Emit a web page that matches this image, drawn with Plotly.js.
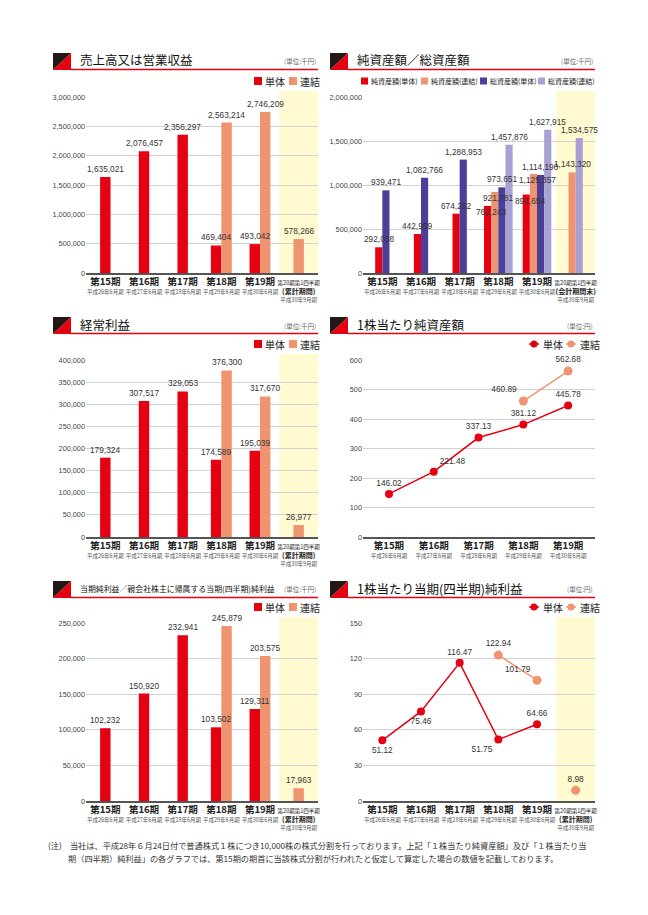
<!DOCTYPE html>
<html><head><meta charset="utf-8">
<script src="https://cdn.plot.ly/plotly-3.0.1.min.js"></script>
<style>html,body{margin:0;padding:0;background:#fff}#chart{width:648px;height:915px}</style>
</head><body><div id="chart"></div>
<script>
// ---------------- data ----------------
const periods = ['第15期','第16期','第17期','第18期','第19期','第20期第1四半期'];
const periodSub = ['平成26年6月期','平成27年6月期','平成28年6月期','平成29年6月期','平成30年6月期','平成30年9月期'];
const noteCum = '(累計期間)';
const noteEnd = '(会計期間末)';

const salesSingle = [1635021, 2076457, 2356297, 469404, 493042, null];
const salesConsol = [null, null, null, 2563214, 2746209, 578266];

const netAssetsSingle = [292038, 442959, 674262, 762243, 891654, null];
const netAssetsConsol = [null, null, null, 921781, 1125357, 1143320];
const totalAssetsSingle = [939471, 1082766, 1288953, 973651, 1114190, null];
const totalAssetsConsol = [null, null, null, 1457876, 1627915, 1534575];

const ordinarySingle = [179324, 307517, 329053, 174589, 195039, null];
const ordinaryConsol = [null, null, null, 376300, 317670, 26977];

const bpsSingle = [146.02, 221.48, 337.13, 381.12, 445.78];
const bpsConsol = [null, null, null, 460.89, 562.68];

const netIncomeSingle = [102232, 150920, 232941, 103502, 129311, null];
const netIncomeConsol = [null, null, null, 245879, 203575, 17963];

const epsSingle = [51.12, 75.46, 116.47, 51.75, 64.66, null];
const epsConsol = [null, null, null, 122.94, 101.79, 8.98];

const nameSingle = '単体', nameConsol = '連結';
const naNames = ['純資産額(単体)','純資産額(連結)','総資産額(単体)','総資産額(連結)'];

// ---------------- style ----------------
const W = 648, H = 915;
const fx = p => p / W, fy = p => 1 - p / H;
const JP = "'Noto Sans CJK JP', sans-serif";
const NUM = "'Liberation Sans Narrow', 'Liberation Sans', Arial, sans-serif";
const RED = '#e50012', SALMON = '#ef9470', NAVY = '#4b3f97', LAV = '#a9a1d3', YEL = '#fffad0';
const L = [86, 318], R = [363, 595];
const rows = [
  {top: 97, zero: 273, head: 60, line: 70, leg: 81},
  {top: 360, zero: 537, head: 325, line: 334, leg: 344},
  {top: 623, zero: 801, head: 588, line: 598, leg: 607}
];

const layout = {
  width: W, height: H, margin: {l: 0, r: 0, t: 0, b: 0},
  paper_bgcolor: '#fff', plot_bgcolor: 'rgba(0,0,0,0)',
  showlegend: false, barmode: 'overlay', font: {family: JP},
  shapes: [], annotations: []
};
const traces = [];

function xLabel(k, note) {
  if (k < 5) return '<b><span style="font-size:9.5px">' + periods[k] + '</span></b><br><span style="font-size:5.5px;color:#555">' + periodSub[k] + '</span>';
  return '<span style="font-size:5.5px">' + periods[k] + '</span><br><b><span style="font-size:7px">' + note + '</span></b><br><span style="font-size:5.5px;color:#555">' + periodSub[k] + '</span>';
}

function addAxes(i, col, row, yMax, dtick, nCats, note, xr, yellow) {
  const s = i === 1 ? '' : String(i);
  const cats = periods.slice(0, nCats);
  layout['xaxis' + s] = {
    domain: [fx(col[0]), fx(col[1])], anchor: 'y' + s, type: 'category',
    range: xr || [-0.5, nCats - 0.5], tickmode: 'array', tickvals: cats,
    ticktext: cats.map((c, k) => xLabel(k, note)), showgrid: false, tickangle: 0,
    showline: true, linecolor: '#555', linewidth: 1.5, ticks: '',
    tickfont: {family: JP, size: 6.5, color: '#222'}, ticklabelstandoff: 3,
    zeroline: false, fixedrange: true
  };
  layout['yaxis' + s] = {
    domain: [fy(row.zero), fy(row.top)], anchor: 'x' + s, range: [0, yMax],
    tick0: 0, dtick: dtick, tickformat: ',d', showgrid: true, gridcolor: '#d2d2d2',
    gridwidth: 1, zeroline: false, showline: false, ticks: '',
    tickfont: {family: NUM, size: 7.3, color: '#444'}, fixedrange: true
  };
  if (yellow) {
    layout.shapes.push({type: 'rect', layer: 'below', xref: 'x' + s, yref: 'paper',
      x0: nCats - 1.5, x1: nCats - 0.5, y0: fy(row.zero), y1: fy(row.top - 6),
      fillcolor: YEL, line: {width: 0}});
  }
}

// dropInCrowd: series whose labels are pulled down onto the bar top when a group has >2 bars
function addBars(i, seriesList, colors, names, wUnit, dropInCrowd) {
  const s = i === 1 ? '' : String(i);
  const n = periods.length;
  const offs = seriesList.map(() => new Array(n).fill(0));
  const count = new Array(n).fill(0);
  for (let c = 0; c < n; c++) {
    const present = [];
    seriesList.forEach((ser, k) => { if (ser[c] != null) present.push(k); });
    count[c] = present.length;
    present.forEach((k, j) => { offs[k][c] = -present.length * wUnit / 2 + j * wUnit; });
  }
  seriesList.forEach((ser, k) => {
    traces.push({
      type: 'bar', name: names[k], x: periods, y: ser, xaxis: 'x' + s, yaxis: 'y' + s,
      offset: offs[k], width: wUnit, marker: {color: colors[k], line: {width: 0}}, hoverinfo: 'skip'
    });
  });
  seriesList.forEach((ser, k) => {
    ser.forEach((v, c) => {
      if (v == null) return;
      const drop = dropInCrowd && dropInCrowd.indexOf(k) >= 0 && count[c] > 2;
      layout.annotations.push({xref: 'x' + s, yref: 'y' + s, x: c + offs[k][c] + wUnit / 2 + (drop ? wUnit * 0.5 : 0), y: v,
        yanchor: drop ? 'middle' : 'bottom', xanchor: 'center', yshift: drop ? -6 : 1, showarrow: false,
        text: v.toLocaleString('en-US'), font: {family: NUM, size: 8.3, color: '#333'}});
    });
  });
}

function addLine(i, x, y, color, size, pos, mode) {
  const s = i === 1 ? '' : String(i);
  traces.push({
    type: 'scatter', mode: mode || 'lines+markers+text', x: x, y: y, xaxis: 'x' + s, yaxis: 'y' + s,
    line: {color: color, width: 1.5}, marker: {color: color, size: size},
    text: y.map(v => v == null ? '' : v.toFixed(2)), textposition: pos,
    textfont: {family: NUM, size: 8.3, color: '#333'}, cliponaxis: false, connectgaps: false, hoverinfo: 'skip'
  });
}

function header(col, row, title, unit, size) {
  const ix0 = col[0] - 33, ix1 = ix0 + 18, iy1 = row.line, iy0 = row.line - 17;
  layout.shapes.push({type: 'path', xref: 'paper', yref: 'paper',
    path: 'M' + fx(ix0) + ',' + fy(iy0) + ' L' + fx(ix1) + ',' + fy(iy0) + ' L' + fx(ix0) + ',' + fy(iy1) + ' Z',
    fillcolor: '#231815', line: {width: 0}});
  layout.shapes.push({type: 'path', xref: 'paper', yref: 'paper',
    path: 'M' + fx(ix1) + ',' + fy(iy0) + ' L' + fx(ix1) + ',' + fy(iy1) + ' L' + fx(ix0) + ',' + fy(iy1) + ' Z',
    fillcolor: RED, line: {width: 0}});
  layout.shapes.push({type: 'line', xref: 'paper', yref: 'paper',
    x0: fx(ix1), x1: fx(col[1]), y0: fy(row.line - 0.5), y1: fy(row.line - 0.5),
    line: {color: RED, width: 1.3}});
  layout.annotations.push({xref: 'paper', yref: 'paper', x: fx(ix0 + 25), y: fy(row.head),
    xanchor: 'left', yanchor: 'middle', text: title, showarrow: false,
    font: {family: JP, size: size, color: '#111'}});
  layout.annotations.push({xref: 'paper', yref: 'paper', x: fx(col[1]), y: fy(row.head + 1),
    xanchor: 'right', yanchor: 'middle', text: unit, showarrow: false,
    font: {family: JP, size: 6.5, color: '#666'}});
}

function legSquare(x, y, sz, color, label, fsize) {
  layout.shapes.push({type: 'rect', xref: 'paper', yref: 'paper', x0: fx(x), x1: fx(x + sz),
    y0: fy(y + sz / 2), y1: fy(y - sz / 2), fillcolor: color, line: {width: 0}});
  layout.annotations.push({xref: 'paper', yref: 'paper', x: fx(x + sz + 1), y: fy(y),
    xanchor: 'left', yanchor: 'middle', text: label, showarrow: false,
    font: {family: JP, size: fsize, color: '#222'}});
}
function legLine(x, y, color, label) {
  layout.shapes.push({type: 'line', xref: 'paper', yref: 'paper', x0: fx(x), x1: fx(x + 10),
    y0: fy(y), y1: fy(y), line: {color: color, width: 1.5}});
  layout.shapes.push({type: 'circle', xref: 'paper', yref: 'paper', x0: fx(x + 1.5), x1: fx(x + 8.5),
    y0: fy(y + 3.5), y1: fy(y - 3.5), fillcolor: color, line: {width: 0}});
  layout.annotations.push({xref: 'paper', yref: 'paper', x: fx(x + 12), y: fy(y),
    xanchor: 'left', yanchor: 'middle', text: label, showarrow: false,
    font: {family: JP, size: 10, color: '#222'}});
}

// ---------------- panels ----------------
addAxes(1, L, rows[0], 3000000, 500000, 6, noteCum, null, true);
addBars(1, [salesSingle, salesConsol], [RED, SALMON], [nameSingle, nameConsol], 0.27);
header(L, rows[0], '売上高又は営業収益', '(単位:千円)', 12.5);
legSquare(254, rows[0].leg, 8, RED, nameSingle, 10);
legSquare(289, rows[0].leg, 8, SALMON, nameConsol, 10);

addAxes(2, R, rows[0], 2000000, 500000, 6, noteEnd, null, true);
addBars(2, [netAssetsSingle, netAssetsConsol, totalAssetsSingle, totalAssetsConsol], [RED, SALMON, NAVY, LAV], naNames, 0.185, [0, 1]);
header(R, rows[0], '純資産額／総資産額', '(単位:千円)', 12.5);
[361, 421, 480, 538].forEach((x, k) => legSquare(x, rows[0].leg, 7, [RED, SALMON, NAVY, LAV][k], naNames[k], 7));

addAxes(3, L, rows[1], 400000, 50000, 6, noteCum, null, true);
addBars(3, [ordinarySingle, ordinaryConsol], [RED, SALMON], [nameSingle, nameConsol], 0.27);
header(L, rows[1], '経常利益', '(単位:千円)', 12.5);
legSquare(254, rows[1].leg, 8, RED, nameSingle, 10);
legSquare(289, rows[1].leg, 8, SALMON, nameConsol, 10);

addAxes(4, R, rows[1], 600, 100, 5, '', [-0.58, 4.6], false);
addLine(4, periods.slice(0, 5), bpsSingle, RED, 8, ['top center', 'top right', 'top center', 'top center', 'top center']);
addLine(4, periods.slice(0, 5), bpsConsol, SALMON, 9, ['top center', 'top center', 'top center', 'top left', 'top center']);
header(R, rows[1], '1株当たり純資産額', '(単位:円)', 12.5);
legLine(529, rows[1].leg, RED, nameSingle);
legLine(566, rows[1].leg, SALMON, nameConsol);

addAxes(5, L, rows[2], 250000, 50000, 6, noteCum, null, true);
addBars(5, [netIncomeSingle, netIncomeConsol], [RED, SALMON], [nameSingle, nameConsol], 0.27);
header(L, rows[2], '当期純利益／親会社株主に帰属する当期(四半期)純利益', '(単位:千円)', 7.9);
legSquare(254, rows[2].leg, 8, RED, nameSingle, 10);
legSquare(289, rows[2].leg, 8, SALMON, nameConsol, 10);

addAxes(6, R, rows[2], 150, 30, 6, noteCum, null, true);
addLine(6, periods, epsSingle, RED, 8, ['bottom center', 'bottom center', 'top center', 'bottom left', 'top center', 'top center']);
const epsConsolAnnual = epsConsol.map((v, i) => i < 5 ? v : null);
const epsConsolQ1 = epsConsol.map((v, i) => i === 5 ? v : null);
addLine(6, periods, epsConsolAnnual, SALMON, 9, ['top center', 'top center', 'top center', 'top center', 'top left', 'top center']);
addLine(6, periods, epsConsolQ1, SALMON, 9, 'top center', 'markers+text');
header(R, rows[2], '1株当たり当期(四半期)純利益', '(単位:円)', 12.5);
legLine(529, rows[2].leg, RED, nameSingle);
legLine(566, rows[2].leg, SALMON, nameConsol);

const note1 = '(注)　当社は、平成28年６月24日付で普通株式１株につき10,000株の株式分割を行っております。上記「１株当たり純資産額」及び「１株当たり当';
const note2 = '期（四半期）純利益」の各グラフでは、第15期の期首に当該株式分割が行われたと仮定して算定した場合の数値を記載しております。';
layout.annotations.push({xref: 'paper', yref: 'paper', x: fx(46), y: fy(845), xanchor: 'left', yanchor: 'middle',
  text: note1, showarrow: false, font: {family: JP, size: 8.2, color: '#333'}});
layout.annotations.push({xref: 'paper', yref: 'paper', x: fx(66), y: fy(858), xanchor: 'left', yanchor: 'middle',
  text: note2, showarrow: false, font: {family: JP, size: 8.2, color: '#333'}});

Plotly.newPlot('chart', traces, layout, {staticPlot: true, displayModeBar: false});
</script>
</body></html>
